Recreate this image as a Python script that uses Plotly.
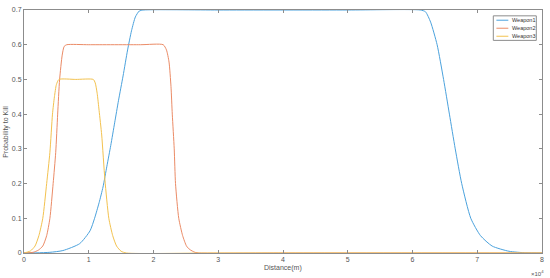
import plotly.graph_objects as go

# distances in units of 1e4 m
w1_dist = [0, 0.2, 0.4, 0.6, 0.86, 1.02, 1.09, 1.16, 1.22, 1.28, 1.34, 1.40, 1.46, 1.53,
           1.60, 1.66, 1.72, 1.78, 1.85, 3.0, 5.0, 6.12, 6.20, 6.28, 6.38, 6.48, 6.57,
           6.66, 6.76, 6.90, 7.05, 7.23, 7.49, 7.75, 8.0]
w1_pk = [0, 0.0005, 0.002, 0.007, 0.027, 0.064, 0.1, 0.145, 0.19, 0.25, 0.31, 0.375, 0.44, 0.51,
         0.585, 0.64, 0.68, 0.697, 0.7, 0.7, 0.7, 0.7, 0.695, 0.665, 0.6, 0.5, 0.4,
         0.3, 0.2, 0.1, 0.05, 0.02, 0.005, 0.0005, 0]

w2_dist = [0, 0.14, 0.22, 0.29, 0.35, 0.40, 0.45, 0.49, 0.52, 0.55, 0.59, 0.62, 0.66,
           1.0, 1.8, 2.15, 2.20, 2.24, 2.27, 2.29, 2.32, 2.34, 2.39, 2.45, 2.51, 2.56,
           2.64, 2.71, 4.0, 8.0]
w2_pk = [0, 0.002, 0.008, 0.02, 0.05, 0.1, 0.2, 0.29, 0.4, 0.5, 0.57, 0.595, 0.6,
         0.6, 0.6, 0.6, 0.585, 0.55, 0.48, 0.4, 0.3, 0.2, 0.1, 0.05, 0.02, 0.01,
         0.002, 0, 0, 0]

w3_dist = [0, 0.02, 0.1, 0.17, 0.23, 0.29, 0.35, 0.40, 0.44, 0.47, 0.50, 0.54,
           0.8, 1.07, 1.10, 1.13, 1.16, 1.20, 1.25, 1.31, 1.37, 1.43, 1.50, 1.58,
           3.0, 8.0]
w3_pk = [0, 0.001, 0.006, 0.02, 0.05, 0.1, 0.2, 0.29, 0.4, 0.45, 0.485, 0.5,
         0.5, 0.5, 0.49, 0.46, 0.41, 0.34, 0.21, 0.1, 0.05, 0.02, 0.005, 0,
         0, 0]

names = ['Weapon1', 'Weapon2', 'Weapon3']
colors = ['#4ba2dd', '#eb8b66', '#f3c24f']

x_ticks = [0, 1, 2, 3, 4, 5, 6, 7, 8]
y_ticks = [0, 0.1, 0.2, 0.3, 0.4, 0.5, 0.6, 0.7]

axis_col = '#8c8c8c'
text_col = '#555555'
font_fam = 'Liberation Sans, Arial, sans-serif'

fig = go.Figure()
for d, p, n, c in zip([w1_dist, w2_dist, w3_dist], [w1_pk, w2_pk, w3_pk], names, colors):
    fig.add_scatter(x=[v * 1e4 for v in d], y=p, name=n, mode='lines',
                    line=dict(color=c, width=1, shape='spline', smoothing=0.6),
                    showlegend=False)

fig.update_xaxes(range=[0, 80000], tickvals=[t * 1e4 for t in x_ticks],
                 ticktext=[str(t) for t in x_ticks],
                 showline=True, linecolor=axis_col, linewidth=1, mirror='ticks',
                 ticks='inside', ticklen=3, tickcolor=axis_col, showgrid=False,
                 zeroline=False, tickfont=dict(size=7, color=text_col))
fig.update_yaxes(range=[0, 0.7], tickvals=y_ticks,
                 ticktext=['0' if t == 0 else str(t) for t in y_ticks],
                 showline=True, linecolor=axis_col, linewidth=1, mirror='ticks',
                 ticks='inside', ticklen=3, tickcolor=axis_col, showgrid=False,
                 zeroline=False, tickfont=dict(size=7, color=text_col))

# axis titles
fig.add_annotation(text='Distance(m)', xref='paper', yref='paper', x=0.5, y=-0.062,
                   showarrow=False, yanchor='middle', font=dict(size=7, color=text_col))
fig.add_annotation(text='Probability to Kill', xref='paper', yref='paper', x=-0.036, y=0.5,
                   showarrow=False, textangle=-90, xanchor='center',
                   font=dict(size=7, color=text_col))
fig.add_annotation(text='\u00d710<sup>4</sup>', xref='paper', yref='paper', x=0.992, y=-0.082,
                   showarrow=False, xanchor='center', yanchor='middle',
                   font=dict(size=6, color=text_col))

# legend box drawn by hand so it stays compact like the original
lx0, lx1, ly0, ly1 = 0.906, 0.989, 0.976, 0.875
fig.add_shape(type='rect', xref='paper', yref='paper', x0=lx0, x1=lx1, y0=ly1, y1=ly0,
              line=dict(color=axis_col, width=1), fillcolor='white')
for i, (n, c) in enumerate(zip(names, colors)):
    yy = ly0 - 0.018 - i * 0.033
    fig.add_shape(type='line', xref='paper', yref='paper', x0=lx0 + 0.006, x1=lx0 + 0.029,
                  y0=yy, y1=yy, line=dict(color=c, width=1))
    fig.add_annotation(text=n, xref='paper', yref='paper', x=lx0 + 0.032, y=yy,
                       showarrow=False, xanchor='left', yanchor='middle',
                       font=dict(size=5.5, color='#333333'))

fig.update_layout(width=550, height=278, margin=dict(l=24, r=7, t=6, b=25),
                  plot_bgcolor='white', paper_bgcolor='white',
                  font=dict(family=font_fam, size=7, color=text_col))

# page body has a default margin; drop it so the figure sits at the window corner
fig.write_html("out.html", config={'displayModeBar': False},
               post_script="document.body.style.margin='0';")
